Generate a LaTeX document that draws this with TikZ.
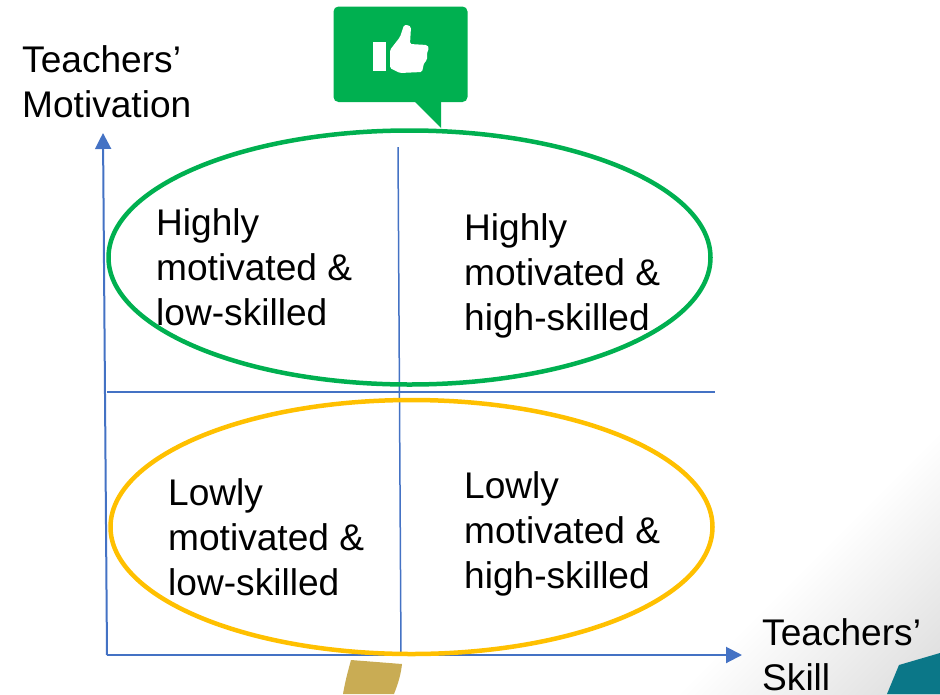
\documentclass[tikz,border=0pt]{standalone}
\usepackage{fontspec}
\setmainfont{Liberation Sans}
\usetikzlibrary{arrows.meta,shapes.geometric}
\definecolor{axisblue}{RGB}{68,114,196}
\definecolor{bubblegreen}{RGB}{0,176,80}
\definecolor{ringyellow}{RGB}{255,192,0}
\definecolor{cornergold}{RGB}{201,172,84}
\definecolor{cornerteal}{RGB}{11,119,136}
\tikzset{
	axisline/.style={draw=axisblue,line width=2pt,-{Triangle[length=16pt,width=16pt]}},
	splitline/.style={draw=axisblue,line width=1.5pt},
	ring/.style={ellipse,draw,line width=4.5pt,minimum width=602pt,minimum height=254pt,inner sep=0pt},
	quadlabel/.style={anchor=north west,align=left,inner sep=0pt,font=\fontsize{37.1}{45}\selectfont},
}
\begin{document}
\begin{tikzpicture}[x=1pt,y=-1pt]
	\useasboundingbox (0,0) rectangle (940,694);
	%corner shading
	\begin{scope}
		\clip (0,0) rectangle (940,694);
		\shade[left color=white,right color=black!17,middle color=white,shading angle=45] (600,320) rectangle (1050,770);
	\end{scope}
	%corner shapes
	\fill[cornergold] (351,660) -- (402,664) .. controls (401,674) and (398,684) .. (394,694) -- (343,694) .. controls (345,682) and (348,671) .. (351,660) -- cycle;
	\fill[cornerteal] (899,665) -- (940,653) -- (940,694) -- (887,694) -- cycle;
	%axes
	\coordinate (origin) at (107,655);
	\coordinate (motivationEnd) at (103,133);
	\coordinate (skillEnd) at (742,655);
	\draw[axisline] (origin) -- (motivationEnd);
	\draw[axisline] (origin) -- (skillEnd);
	%quadrant lines
	\coordinate (splitTop) at (398,147);
	\coordinate (splitBottom) at (401,655);
	\coordinate (splitLeft) at (107,392);
	\coordinate (splitRight) at (715,392);
	\draw[splitline] (splitTop) -- (splitBottom);
	\draw[splitline] (splitLeft) -- (splitRight);
	%rings
	\node[ring,draw=bubblegreen] (topRing) at (409.5,257.5) {};
	\node[ring,draw=ringyellow] (bottomRing) at (411.5,527) {};
	%bubble
	\fill[bubblegreen,rounded corners=5pt] (333.5,6.5) rectangle (467.5,102);
	\fill[bubblegreen] (414,101) -- (441,128) -- (441,101) -- cycle;
	%thumb
	\fill[white] (373,42) rectangle (386,71);
	\fill[white,rounded corners=1.5pt] (390,50) -- (400,37) -- (404,25) -- (408,25) -- (411,27) -- (410,44) -- (427,45) -- (429,48) -- (427,53) -- (427,60) -- (424,63) -- (422,72) -- (400,73) -- (390,68) -- cycle;
	%axis labels
	\node[quadlabel] (motivationLabel) at (22,45.5) {Teachers’\\Motivation};
	\node[quadlabel] (skillLabel) at (762,618) {Teachers’\\Skill};
	%quadrant labels
	\node[quadlabel] (highLow) at (156,208) {Highly\\motivated \&\\low-skilled};
	\node[quadlabel] (highHigh) at (464,213) {Highly\\motivated \&\\high-skilled};
	\node[quadlabel] (lowLow) at (168,478) {Lowly\\motivated \&\\low-skilled};
	\node[quadlabel] (lowHigh) at (464,471) {Lowly\\motivated \&\\high-skilled};
\end{tikzpicture}
\end{document}
